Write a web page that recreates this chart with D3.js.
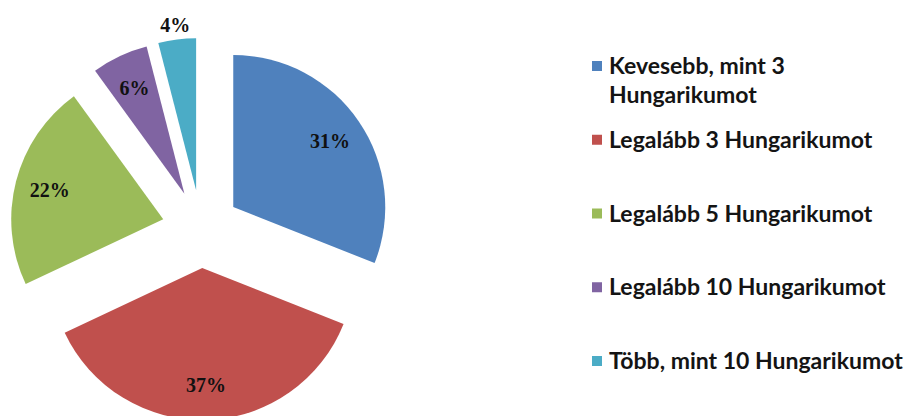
<!DOCTYPE html>
<html>
<head>
<meta charset="utf-8">
<script src="https://cdn.jsdelivr.net/npm/d3@7/dist/d3.min.js"></script>
<style>
  html, body { margin: 0; padding: 0; background: #fff; }
  svg { display: block; }
  .label { font-family: "Liberation Serif", "DejaVu Serif", serif; font-weight: bold; }
  .legend text { font-family: Lato, "Open Sans", sans-serif; font-weight: bold; }
</style>
</head>
<body>
<div id="chart"></div>
<script>
'use strict';

// Data.
const categories = [
  'Kevesebb, mint 3 Hungarikumot',
  'Legalább 3 Hungarikumot',
  'Legalább 5 Hungarikumot',
  'Legalább 10 Hungarikumot',
  'Több, mint 10 Hungarikumot'
];
const values = [31, 37, 22, 6, 4];
const colors = ['#4f81bd', '#c0504d', '#9bbb59', '#8064a2', '#4bacc6'];


const width = 912;
const height = 416;
const cx = 201;
const cy = 229;
const radius = 152;
const explode = 39;

const svg = d3.select('#chart').append('svg')
  .attr('width', width)
  .attr('height', height);

const data = categories.map((name, i) => ({ name: name, value: values[i], color: colors[i] }));

const pie = d3.pie()
  .sort(null)
  .value(d => d.value);

const arc = d3.arc()
  .innerRadius(0)
  .outerRadius(radius);

const arcs = pie(data);

// Offset of a point at a given distance along the slice mid-angle.
const along = (d, dist) => {
  const a = (d.startAngle + d.endAngle) / 2;
  return [Math.sin(a) * dist, -Math.cos(a) * dist];
};

const $pie = svg.append('g')
  .attr('transform', 'translate(' + cx + ',' + cy + ')');

$pie.selectAll('path.slice')
  .data(arcs)
  .enter()
  .append('path')
  .attr('class', 'slice')
  .attr('transform', d => 'translate(' + along(d, explode) + ')')
  .attr('d', arc)
  .attr('fill', d => d.data.color);

// Small slices get their label outside the arc.
$pie.selectAll('text.label')
  .data(arcs)
  .enter()
  .append('text')
  .attr('class', 'label')
  .attr('transform', d => {
    const dist = d.data.value < 5 ? explode + radius + 15 : explode + radius * 0.77;
    return 'translate(' + along(d, dist) + ')';
  })
  .attr('text-anchor', 'middle')
  .attr('dy', '0.35em')
  .style('font-size', '20px')
  .attr('fill', '#111')
  .text(d => d.data.value + '%');


// Legend.
const legendX = 592;
const legendY = d3.scalePoint()
  .domain(categories)
  .range([66, 361]);
const lineHeight = 29;
const wrapWidth = 310;

const $legend = svg.append('g').attr('class', 'legend');

const $items = $legend.selectAll('g.item')
  .data(data)
  .enter()
  .append('g')
  .attr('class', 'item')
  .attr('transform', d => 'translate(' + legendX + ',' + legendY(d.name) + ')');

$items.append('rect')
  .attr('x', 0)
  .attr('y', -5)
  .attr('width', 10)
  .attr('height', 10)
  .attr('fill', d => d.color);

$items.each(function(d) {
  const $text = d3.select(this).append('text')
    .attr('x', 17)
    .attr('fill', '#141414')
    .style('font-size', '23px');
  // Simple word wrap.
  const words = d.name.split(' ');
  let line = [];
  let $tspan = $text.append('tspan').attr('x', 17).attr('dy', '0.35em');
  words.forEach(w => {
    line.push(w);
    $tspan.text(line.join(' '));
    if($tspan.node().getComputedTextLength() > wrapWidth && line.length > 1) {
      line.pop();
      $tspan.text(line.join(' '));
      line = [w];
      $tspan = $text.append('tspan').attr('x', 17).attr('dy', lineHeight).text(w);
    }
  });
});
</script>
</body>
</html>
